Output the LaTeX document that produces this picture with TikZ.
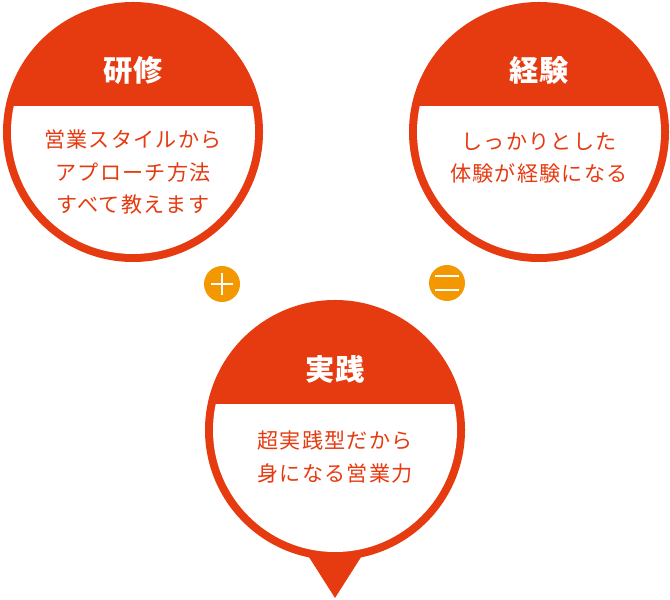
\documentclass[tikz,border=0pt]{standalone}
\usepackage{fontspec}
\setmainfont{Noto Sans CJK JP}
\newfontfamily\bodyfont{Noto Sans CJK JP}[LetterSpace=6]
\usetikzlibrary{positioning,calc}
\definecolor{capRed}{HTML}{E63A10}
\definecolor{opOrange}{HTML}{F39800}

\begin{document}
\begin{tikzpicture}[
  x=0.03cm, y=-0.03cm,
  bubble/.style={circle, fill=capRed, minimum size=7.8cm, inner sep=0pt},
  ttl/.style={font=\fontsize{25}{28}\selectfont\bfseries, text=white},
  body/.style={font=\bodyfont\fontsize{18}{27.5}\selectfont, text=capRed, align=center},
  opdot/.style={circle, fill=opOrange, minimum size=1.08cm, inner sep=0pt},
  opline/.style={draw=white, line width=1.6pt},
]
\useasboundingbox (0,0) rectangle (670,600);

% =========================== 3 BUBBLES ===========================
\node[bubble] (kenshu) at (133,132) {};
\node[bubble] (keiken) at (539,132) {};
\node[bubble] (jissen) at (335,430) {};

% pointer under the bottom bubble
\fill[capRed] ($(jissen.center)+(-28,124)$) -- ($(jissen.center)+(28,124)$)
  -- ($(jissen.center)+(0,168)$) -- cycle;

% white lower part: inner circle cut by the chord
\foreach \b in {kenshu,keiken,jissen}{
  \begin{scope}
    \clip (\b.center) circle[radius=122];
    \fill[white] ($(\b.center)+(-130,-26)$) rectangle ($(\b.center)+(130,130)$);
  \end{scope}}

% =========================== TEXTS ===========================
\node[ttl] (kenshuT) at (133,70) {研修};
\node[body] (kenshuB) at (133,172) {営業スタイルから\\アプローチ方法\\すべて教えます};

\node[ttl] (keikenT) at (539,70) {経験};
\node[body] (keikenB) at (539,158) {しっかりとした\\体験が経験になる};

\node[ttl] (jissenT) at (335,369) {実践};
\node[body] (jissenB) at (335,457) {超実践型だから\\身になる営業力};

% =========================== PLUS / EQUAL ===========================
\node[opdot] (plus) at (222,284) {};
\draw[opline] ($(plus.center)+(-11,0)$) -- ($(plus.center)+(11,0)$);
\draw[opline] ($(plus.center)+(0,-11)$) -- ($(plus.center)+(0,11)$);

\node[opdot] (equal) at (447,283) {};
\draw[opline] ($(equal.center)+(-12,-7)$) -- ($(equal.center)+(12,-7)$);
\draw[opline] ($(equal.center)+(-12,7)$) -- ($(equal.center)+(12,7)$);

\end{tikzpicture}
\end{document}
